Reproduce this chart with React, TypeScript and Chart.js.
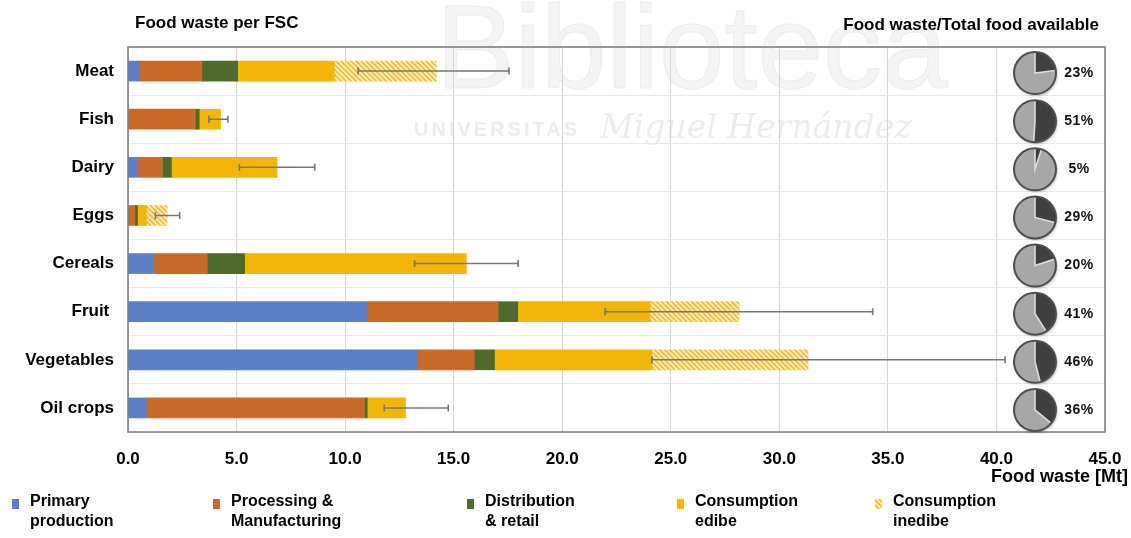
import React, { useEffect, useRef } from "react";
import { Chart, registerables } from "chart.js";

Chart.register(...registerables);

// Food supply chain categories (top to bottom)
const CATEGORIES = ["Meat", "Fish", "Dairy", "Eggs", "Cereals", "Fruit ", "Vegetables", "Oil crops"];

// Food waste per stage of the supply chain [Mt]
const PRIMARY_PRODUCTION = [0.5, 0, 0.44, 0, 1.18, 11.0, 13.32, 0.85];
const PROCESSING = [2.9, 3.1, 1.15, 0.32, 2.47, 6.05, 2.63, 10.04];
const DISTRIBUTION = [1.65, 0.18, 0.41, 0.12, 1.72, 0.9, 0.93, 0.13];
const CONSUMPTION_EDIBLE = [4.45, 0.98, 4.86, 0.41, 10.21, 6.1, 7.25, 1.76];
const CONSUMPTION_INEDIBLE = [4.7, 0, 0, 0.95, 0, 4.1, 7.19, 0];

// Uncertainty range of the total waste [Mt]
const ERROR_LOW = [10.6, 3.73, 5.13, 1.26, 13.2, 21.98, 24.13, 11.8];
const ERROR_HIGH = [17.55, 4.6, 8.6, 2.38, 17.97, 34.3, 40.4, 14.75];

// Food waste / total food available [%]
const WASTE_SHARE = [23, 51, 5, 29, 20, 41, 46, 36];

const SERIES_NAMES = [
  "Primary\nproduction",
  "Processing &\nManufacturing",
  "Distribution\n& retail",
  "Consumption\nedibe",
  "Consumption\ninedibe",
];

const X_MIN = 0;
const X_MAX = 45;
const X_STEP = 5;

const FONT = "'Liberation Sans', Arial, Helvetica, sans-serif";
const COLORS = ["#5b7fc9", "#c96a2b", "#4e6a2c", "#f3b508"];

// legend text left edges
const LEGEND_TEXT_X = [30, 231, 485, 695, 893];

function makeHatch(): CanvasPattern | string {
  const c = document.createElement("canvas");
  const p = 5;
  c.width = p;
  c.height = p;
  const g = c.getContext("2d");
  if (!g) return "#f8dc86";
  g.fillStyle = "#fcf0c6";
  g.fillRect(0, 0, p, p);
  g.strokeStyle = "#f1be35";
  g.lineWidth = 1.8;
  g.beginPath();
  for (let k = -1; k <= 1; k++) {
    g.moveTo(-2, -2 + k * p);
    g.lineTo(p + 2, p + 2 + k * p);
  }
  g.stroke();
  return g.createPattern(c, "repeat") || "#f8dc86";
}

export default function App() {
  const ref = useRef<HTMLCanvasElement>(null);

  useEffect(() => {
    document.body.style.margin = "0";
    const canvas = ref.current;
    if (!canvas) return;
    const hatch = makeHatch();
    const fills: any[] = [...COLORS, hatch];

    const watermark = {
      id: "watermark",
      beforeDraw(chart: any) {
        const { ctx } = chart;
        ctx.save();
        ctx.textBaseline = "alphabetic";
        ctx.fillStyle = "#f4f4f4";
        ctx.strokeStyle = "#ececec";
        ctx.lineWidth = 1;
        ctx.font = `118px ${FONT}`;
        ctx.fillText("Biblioteca", 436, 88);
        ctx.strokeText("Biblioteca", 436, 88);
        ctx.fillStyle = "#ececec";
        ctx.font = `bold 20px ${FONT}`;
        (ctx as any).letterSpacing = "3px";
        ctx.fillText("UNIVERSITAS", 414, 136);
        (ctx as any).letterSpacing = "0px";
        ctx.font = `italic 33px 'DejaVu Serif', serif`;
        ctx.fillText("Miguel Hernández", 600, 138);
        ctx.restore();
      },
    };

    const errorBars = {
      id: "errorBars",
      afterDatasetsDraw(chart: any) {
        const { ctx, scales } = chart;
        const x = scales.x;
        const y = scales.y;
        ctx.save();
        ctx.strokeStyle = "#777777";
        ctx.lineWidth = 1.6;
        ERROR_LOW.forEach((lo, i) => {
          const yc = y.getPixelForValue(i);
          const x0 = x.getPixelForValue(lo);
          const x1 = x.getPixelForValue(ERROR_HIGH[i]);
          ctx.beginPath();
          ctx.moveTo(x0, yc);
          ctx.lineTo(x1, yc);
          ctx.moveTo(x0, yc - 3.5);
          ctx.lineTo(x0, yc + 3.5);
          ctx.moveTo(x1, yc - 3.5);
          ctx.lineTo(x1, yc + 3.5);
          ctx.stroke();
        });
        ctx.restore();
      },
    };

    const frameAndText = {
      id: "frameAndText",
      afterDraw(chart: any) {
        const { ctx, chartArea: a, scales } = chart;
        const y = scales.y;
        ctx.save();
        // plot frame
        ctx.strokeStyle = "#7a7a7a";
        ctx.lineWidth = 1.5;
        ctx.strokeRect(a.left, a.top, a.right - a.left, a.bottom - a.top);

        // headings
        ctx.fillStyle = "#000";
        ctx.textBaseline = "middle";
        ctx.font = `bold 17px ${FONT}`;
        ctx.textAlign = "left";
        ctx.fillText("Food waste per FSC", a.left + 7, a.top - 24);
        ctx.textAlign = "right";
        ctx.fillText("Food waste/Total food available", a.right - 6, a.top - 22);

        // x axis title
        ctx.font = `bold 18px ${FONT}`;
        ctx.fillText("Food waste [Mt]", a.right + 23, a.bottom + 45);

        // share pies
        const r = 21;
        const cx = a.right - 70;
        WASTE_SHARE.forEach((pct, i) => {
          const cy = y.getPixelForValue(i) + 2;
          const start = -Math.PI / 2;
          const end = start + (pct / 100) * Math.PI * 2;
          ctx.save();
          ctx.shadowColor = "rgba(0,0,0,0.35)";
          ctx.shadowBlur = 3;
          ctx.shadowOffsetX = 1;
          ctx.shadowOffsetY = 1.5;
          ctx.beginPath();
          ctx.arc(cx, cy, r, 0, Math.PI * 2);
          ctx.fillStyle = "#a7a7a7";
          ctx.fill();
          ctx.restore();
          ctx.beginPath();
          ctx.moveTo(cx, cy);
          ctx.arc(cx, cy, r, start, end);
          ctx.closePath();
          ctx.fillStyle = "#404040";
          ctx.fill();
          // slice separators
          ctx.strokeStyle = "#dcdcdc";
          ctx.lineWidth = 1.6;
          ctx.beginPath();
          ctx.moveTo(cx + Math.cos(start) * (r - 1), cy + Math.sin(start) * (r - 1));
          ctx.lineTo(cx, cy);
          ctx.lineTo(cx + Math.cos(end) * (r - 1), cy + Math.sin(end) * (r - 1));
          ctx.stroke();
          // rim
          ctx.beginPath();
          ctx.arc(cx, cy, r, 0, Math.PI * 2);
          ctx.strokeStyle = "#4f4f4f";
          ctx.lineWidth = 2;
          ctx.stroke();
          // label
          ctx.fillStyle = "#111";
          ctx.font = `bold 14px ${FONT}`;
          (ctx as any).letterSpacing = "0.5px";
          ctx.textAlign = "center";
          ctx.textBaseline = "middle";
          ctx.fillText(`${pct}%`, cx + 44, cy);
          (ctx as any).letterSpacing = "0px";
        });

        // legend
        ctx.font = `bold 16px ${FONT}`;
        ctx.textAlign = "left";
        ctx.textBaseline = "middle";
        chart.data.datasets.forEach((ds: any, i: number) => {
          const tx = LEGEND_TEXT_X[i];
          ctx.fillStyle = ds.backgroundColor;
          ctx.fillRect(tx - 18, 499, 7, 10);
          ctx.fillStyle = "#000";
          String(ds.label)
            .split("\n")
            .forEach((line: string, j: number) => {
              ctx.fillText(line, tx, 502 + j * 20);
            });
        });
        ctx.restore();
      },
    };

    const series = [PRIMARY_PRODUCTION, PROCESSING, DISTRIBUTION, CONSUMPTION_EDIBLE, CONSUMPTION_INEDIBLE];

    const chart = new Chart(canvas, {
      type: "bar",
      data: {
        labels: CATEGORIES,
        datasets: series.map((d, i) => ({
          label: SERIES_NAMES[i],
          data: d,
          backgroundColor: fills[i],
          borderWidth: 0,
          barThickness: 20,
        })),
      },
      options: {
        responsive: false,
        animation: false,
        indexAxis: "y",
        layout: { padding: { top: 47, right: 26, left: 0, bottom: 0 } },
        plugins: {
          legend: { display: false },
          tooltip: { enabled: false },
        },
        scales: {
          x: {
            stacked: true,
            min: X_MIN,
            max: X_MAX,
            ticks: {
              stepSize: X_STEP,
              callback: (v: any) => Number(v).toFixed(1),
              color: "#000",
              font: { family: FONT, size: 17, weight: "bold" },
              padding: 17,
            },
            grid: { color: "#d6d6d6", drawTicks: false, lineWidth: 1 },
            border: { display: false },
            afterFit: (s: any) => {
              s.height = 106;
              s.paddingLeft = 0;
              s.paddingRight = 0;
            },
          },
          y: {
            stacked: true,
            ticks: {
              color: "#000",
              font: { family: FONT, size: 17, weight: "bold" },
              padding: 14,
            },
            grid: { color: "#e8e8e8", drawTicks: false },
            border: { display: false },
            afterFit: (s: any) => {
              s.width = 128;
              s.paddingTop = 0;
              s.paddingBottom = 0;
            },
          },
        },
      } as any,
      plugins: [watermark, errorBars, frameAndText],
    });

    return () => chart.destroy();
  }, []);

  return (
    <div style={{ width: 1131, height: 538, position: "relative", background: "#fff" }}>
      <canvas ref={ref} width={1131} height={538} style={{ display: "block" }} />
    </div>
  );
}
